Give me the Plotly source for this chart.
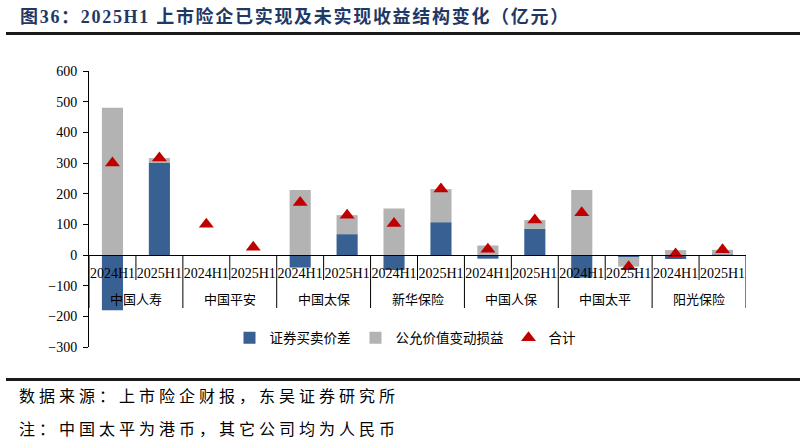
import plotly.graph_objects as go

# ---------------- data ----------------
groups = ['中国人寿', '中国平安', '中国太保', '新华保险', '中国人保', '中国太平', '阳光保险']
periods = ['2024H1', '2025H1']
securities_spread = [-180, 300, None, None, -41, 68, -49, 107, -12, 85, -74, -8, -13, 1]
fair_value_change = [480, 16, None, None, 212, 62, 152, 108, 31, 29, 212, -30, 16, 16]
total = [300, 316, 100, 25, 171, 130, 103, 215, 19, 114, 138, -38, 3, 17]

series_names = ['证券买卖价差', '公允价值变动损益', '合计']
title_text = '图36：2025H1 上市险企已实现及未实现收益结构变化（亿元）'
source_text = '数据来源：上市险企财报，东吴证券研究所'
note_text = '注：中国太平为港币，其它公司均为人民币'
y_range = [-300, 600]

# ---------------- layout helpers ----------------
W, H = 805, 443
L, R, T, B = 89, 746, 71, 347


def px(xp):
    return (xp - L) / (R - L)


def py(yp):
    return (B - yp) / (B - T)


n_per = len(periods)
level2 = [p for _ in groups for p in periods]
xpos = list(range(len(level2)))

BLUE = '#386092'
GREY = '#B3B3B3'
RED = '#C00000'
SERIF = 'Liberation Serif, Noto Sans CJK SC'
CJK = 'Noto Sans CJK SC'

fig = go.Figure()
fig.add_trace(go.Bar(x=xpos, y=securities_spread, name=series_names[0],
                     marker=dict(color=BLUE, line=dict(width=0))))
fig.add_trace(go.Bar(x=xpos, y=fair_value_change, name=series_names[1],
                     marker=dict(color=GREY, line=dict(width=0))))
fig.add_trace(go.Scatter(x=xpos, y=total, name=series_names[2], mode='markers',
                         marker=dict(symbol='triangle-up', size=13, color=RED)))

zero_pos = (0 - y_range[0]) / (y_range[1] - y_range[0])
zero_px = B - zero_pos * (B - T)

shapes = []
annotations = []
for gi, g in enumerate(groups):
    # sub-category separator
    xb = gi * n_per + (n_per - 1) / 2
    shapes.append(dict(type='line', xref='x', yref='paper', x0=xb, x1=xb,
                       y0=zero_pos, y1=py(zero_px + 25),
                       line=dict(color='black', width=1)))
    # group label
    annotations.append(dict(text=g, xref='x', yref='paper', x=xb, y=py(zero_px + 43),
                            xanchor='center', yanchor='middle', showarrow=False,
                            font=dict(family=CJK, size=13, color='black')))
# group dividers
for gi in range(len(groups) + 1):
    xd = gi * n_per - 0.5
    shapes.append(dict(type='line', xref='x', yref='paper', x0=xd, x1=xd,
                       y0=zero_pos, y1=py(zero_px + 53),
                       line=dict(color='black', width=1)))
# header / footer rules
shapes.append(dict(type='line', xref='paper', yref='paper', x0=px(6), x1=px(800),
                   y0=py(33.5), y1=py(33.5), line=dict(color='#1a1a1a', width=3)))
shapes.append(dict(type='line', xref='paper', yref='paper', x0=px(6), x1=px(800),
                   y0=py(379.5), y1=py(379.5), line=dict(color='#1a1a1a', width=3)))

annotations += [
    dict(text='<b><span style="letter-spacing:1.7px">' + title_text + '</span></b>',
         xref='paper', yref='paper', x=px(18), y=py(16), xanchor='left', yanchor='middle',
         showarrow=False, font=dict(family=SERIF, size=18, color='#1F3864')),
    dict(text='<span style="letter-spacing:4px">' + source_text + '</span>',
         xref='paper', yref='paper', x=px(17), y=py(395), xanchor='left', yanchor='middle',
         showarrow=False, font=dict(family=CJK, size=16, color='black')),
    dict(text='<span style="letter-spacing:4px">' + note_text + '</span>',
         xref='paper', yref='paper', x=px(17), y=py(428), xanchor='left', yanchor='middle',
         showarrow=False, font=dict(family=CJK, size=16, color='black')),
]

fig.update_layout(
    width=W, height=H,
    margin=dict(l=L, r=W - R, t=T, b=H - B, pad=0, autoexpand=False),
    paper_bgcolor='white', plot_bgcolor='white',
    barmode='relative', bargap=0.55,
    showlegend=True,
    legend=dict(orientation='h', x=px(405), y=py(338), xanchor='center', yanchor='middle',
                font=dict(family=CJK, size=13.5, color='black'), itemwidth=30,
                bgcolor='rgba(0,0,0,0)'),
    shapes=shapes, annotations=annotations,
    xaxis=dict(anchor='free', position=zero_pos, range=[-0.5, len(level2) - 0.5],
               tickmode='array', tickvals=xpos, ticktext=level2,
               showline=True, linecolor='black', linewidth=1, automargin=False,
               tickangle=0, ticks='', ticklabelstandoff=5,
               tickfont=dict(family=SERIF, size=14, color='black'),
               showgrid=False, zeroline=False),
    yaxis=dict(range=y_range, dtick=100, showline=True, linecolor='black', linewidth=1,
               automargin=False, ticklabelstandoff=3,
               ticks='outside', ticklen=5, tickcolor='black', showgrid=False, zeroline=False,
               tickfont=dict(family='Liberation Serif', size=14, color='black')),
)

fig.write_html('out.html', config={'displayModeBar': False},
               post_script="document.body.style.margin='0px';")
